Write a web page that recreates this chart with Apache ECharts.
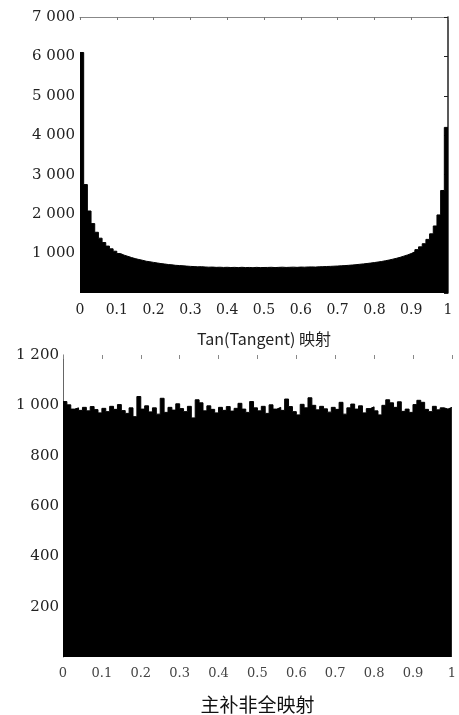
<!DOCTYPE html>
<html lang="zh">
<head>
<meta charset="UTF-8">
<title>映射分布直方图</title>
<script src="https://cdn.jsdelivr.net/npm/echarts@6/dist/echarts.min.js"></script>
<style>
  html, body { margin: 0; padding: 0; background: #fff; }
  #main { width: 459px; height: 715px; }
</style>
</head>
<body>
<div id="main"></div>
<script type="text/javascript">
// 100 bins on [0,1] -> 101 bin edges
var binEdges = [];
for (var i = 0; i <= 100; i++) binEdges.push(i);

var xTickLabels = ['0', '0.1', '0.2', '0.3', '0.4', '0.5', '0.6', '0.7', '0.8', '0.9', '1'];

// upper histogram (U-shaped)
var topCounts = [
  6100, 2750, 2080, 1760, 1540, 1390, 1280, 1190, 1120, 1060,
  1000, 960, 930, 900, 872, 850, 830, 806, 792, 776,
  762, 746, 736, 722, 714, 702, 696, 690, 682, 675,
  670, 664, 668, 660, 655, 658, 650, 654, 648, 652,
  646, 650, 644, 652, 645, 648, 642, 650, 644, 647,
  648, 652, 645, 650, 655, 648, 652, 656, 650, 658,
  655, 660, 662, 658, 665, 668, 672, 675, 680, 684,
  690, 695, 702, 710, 718, 728, 738, 748, 760, 772,
  786, 800, 818, 836, 858, 880, 905, 935, 965, 1000,
  1045, 1100, 1170, 1250, 1360, 1500, 1700, 1980, 2600, 4200
];

// lower histogram (flat)
var bottomCounts = [
  1015, 1002, 985, 990, 980, 992, 978, 995, 983, 970,
  988, 975, 996, 984, 1003, 979, 968, 990, 955, 1035,
  985, 998, 974, 990, 965, 1028, 972, 992, 981, 1006,
  987, 975, 996, 950, 1022, 1010, 978, 998, 984, 970,
  992, 980, 995, 977, 988, 1008, 985, 972, 1015, 990,
  978, 996, 968, 1002, 985, 992, 980, 1025, 995, 975,
  962, 1004, 990, 1030, 1000, 982, 996, 986, 973, 992,
  984, 1012, 965, 990, 1005, 985, 998, 970, 987, 994,
  978, 962, 1000, 1022, 1010, 992, 1014, 976, 985, 972,
  1003, 1020, 1012, 984, 975, 996, 982, 990, 985, 992
];

var topName = 'Tan(Tangent) 映射';
var bottomName = '主补非全映射';

var serif = 'DejaVu Serif';

function thousands(v) {
  if (v === 0) return '';
  var s = String(v);
  return s.length > 3 ? s.slice(0, s.length - 3) + ' ' + s.slice(s.length - 3) : s;
}
function xLabel(v) {
  return xTickLabels[Math.round(v * 10)];
}
// step outline of a histogram: value of bin i holds from edge i to edge i+1
function stepData(counts) {
  return counts.concat([counts[counts.length - 1]]);
}

var chart = echarts.init(document.getElementById('main'));

function histSeries(counts, xi, yi) {
  return {
    type: 'line', xAxisIndex: xi, yAxisIndex: yi, data: stepData(counts),
    step: 'end', symbol: 'none', silent: true,
    lineStyle: { color: '#000', width: 1 },
    areaStyle: { color: '#000', opacity: 1 }
  };
}

var option = {
  backgroundColor: '#fff',
  animation: false,
  grid: [
    { left: 80, right: 11, top: 17, height: 276 },
    { left: 63, right: 5, top: 355, height: 306 }
  ],
  xAxis: [
    { gridIndex: 0, type: 'category', data: binEdges, show: false, boundaryGap: false },
    {
      gridIndex: 0, type: 'value', position: 'bottom', min: 0, max: 1, interval: 0.1,
      axisLine: { show: false, onZero: false }, axisTick: { show: false }, splitLine: { show: false },
      axisLabel: { formatter: xLabel, color: '#222', fontFamily: serif, fontSize: 14, margin: 10 },
      name: topName, nameLocation: 'middle', nameGap: 38,
      nameTextStyle: { color: '#222', fontFamily: 'Noto Sans CJK SC', fontSize: 16 }
    },
    {
      gridIndex: 0, type: 'value', position: 'top', min: 0, max: 1, interval: 0.1,
      axisLine: { show: true, onZero: false, lineStyle: { color: '#888', width: 1 } },
      axisTick: { show: true, inside: true, length: 3, lineStyle: { color: '#777' } },
      axisLabel: { show: false }, splitLine: { show: false }
    },
    { gridIndex: 1, type: 'category', data: binEdges, show: false, boundaryGap: false },
    {
      gridIndex: 1, type: 'value', position: 'bottom', min: 0, max: 1, interval: 0.1,
      axisLine: { show: false, onZero: false }, axisTick: { show: false }, splitLine: { show: false },
      axisLabel: { formatter: xLabel, color: '#444', fontFamily: serif, fontSize: 13, margin: 10 },
      name: bottomName, nameLocation: 'middle', nameGap: 38,
      nameTextStyle: { color: '#111', fontFamily: 'Noto Sans CJK SC', fontSize: 19 }
    },
    {
      gridIndex: 1, type: 'value', position: 'top', min: 0, max: 1, interval: 0.1,
      axisLine: { show: false, onZero: false },
      axisTick: { show: true, inside: true, length: 4, lineStyle: { color: '#888' } },
      axisLabel: { show: false }, splitLine: { show: false }
    }
  ],
  yAxis: [
    {
      gridIndex: 0, type: 'value', position: 'left', min: 0, max: 7000, interval: 1000,
      axisLine: { show: false, onZero: false }, axisTick: { show: false }, splitLine: { show: false },
      axisLabel: { formatter: thousands, color: '#222', fontFamily: serif, fontSize: 15, margin: 5 }
    },
    {
      gridIndex: 0, type: 'value', position: 'right', min: 0, max: 7000, interval: 1000,
      axisLine: { show: true, onZero: false, lineStyle: { color: '#222', width: 1.5 } },
      axisTick: { show: true, inside: true, length: 4, lineStyle: { color: '#222' } },
      axisLabel: { show: false }, splitLine: { show: false }
    },
    {
      gridIndex: 1, type: 'value', position: 'left', min: 0, max: 1200, interval: 200,
      axisLine: { show: true, onZero: false, lineStyle: { color: '#666', width: 1 } },
      axisTick: { show: false }, splitLine: { show: false },
      axisLabel: { formatter: thousands, color: '#222', fontFamily: serif, fontSize: 15, margin: 4 }
    }
  ],
  series: [
    histSeries(topCounts, 0, 0),
    histSeries(bottomCounts, 3, 2)
  ]
};

chart.setOption(option);
</script>
</body>
</html>
